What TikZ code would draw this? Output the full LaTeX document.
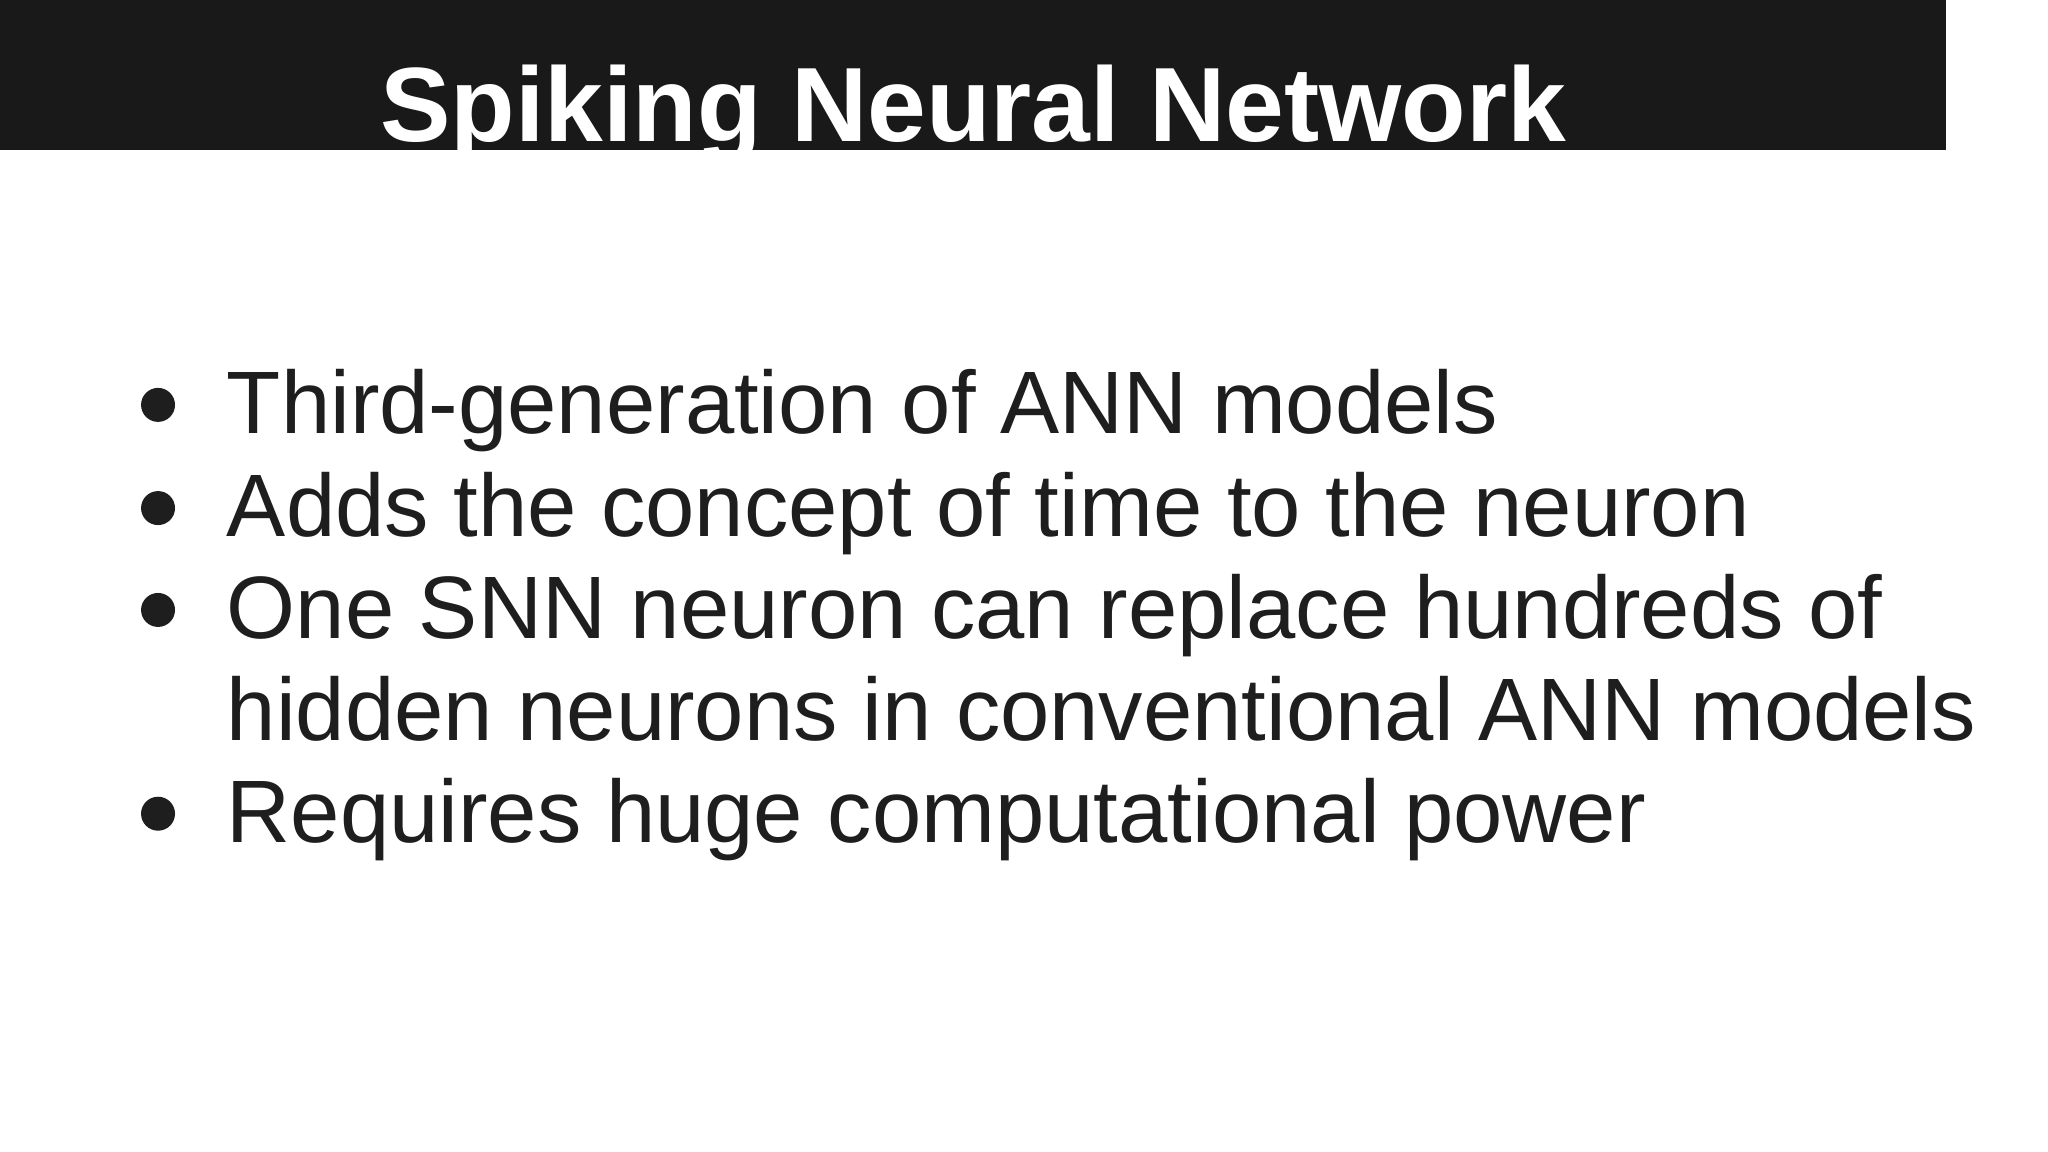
\documentclass[tikz,border=0pt]{standalone}
\usepackage{fontspec}
\setmainfont{Liberation Sans}
\newfontfamily\dejavu{DejaVu Sans}
\definecolor{txt}{HTML}{1E1E1E}
\begin{document}
\begin{tikzpicture}[x=0.01cm,y=-0.01cm,
  bl/.style={anchor=base west,inner sep=0,text=txt,font=\fontsize{19.3pt}{23pt}\selectfont},
  dot/.style={circle,fill=txt,inner sep=0,minimum size=0.26cm}]
\useasboundingbox (0,0) rectangle (1568,882);
\fill[white] (0,0) rectangle (1568,882);
\fill[black!90] (0,0) rectangle (1490,115);
\begin{scope}
\clip (0,0) rectangle (1490,115);
\node[anchor=base,inner sep=0,text=white,font=\fontsize{23pt}{27pt}\selectfont\bfseries] (title) at (745,108) {Spiking Neural Network};
\end{scope}
\node[bl] (l1) at (173,332) {Third-generation of ANN models};
\node[bl] (l2) at (173,411) {Adds the concept of time to the neuron};
\node[bl] (l3) at (173,489) {One SNN neuron can replace hundreds of};
\node[bl] (l4) at (173,567) {hidden neurons in conventional ANN models};
\node[bl] (l5) at (173,645) {Requires huge computational power};
\foreach \y/\n in {310/b1,389/b2,467/b3,623/b5} \node[dot] (\n) at (121,\y) {};
\end{tikzpicture}
\end{document}
